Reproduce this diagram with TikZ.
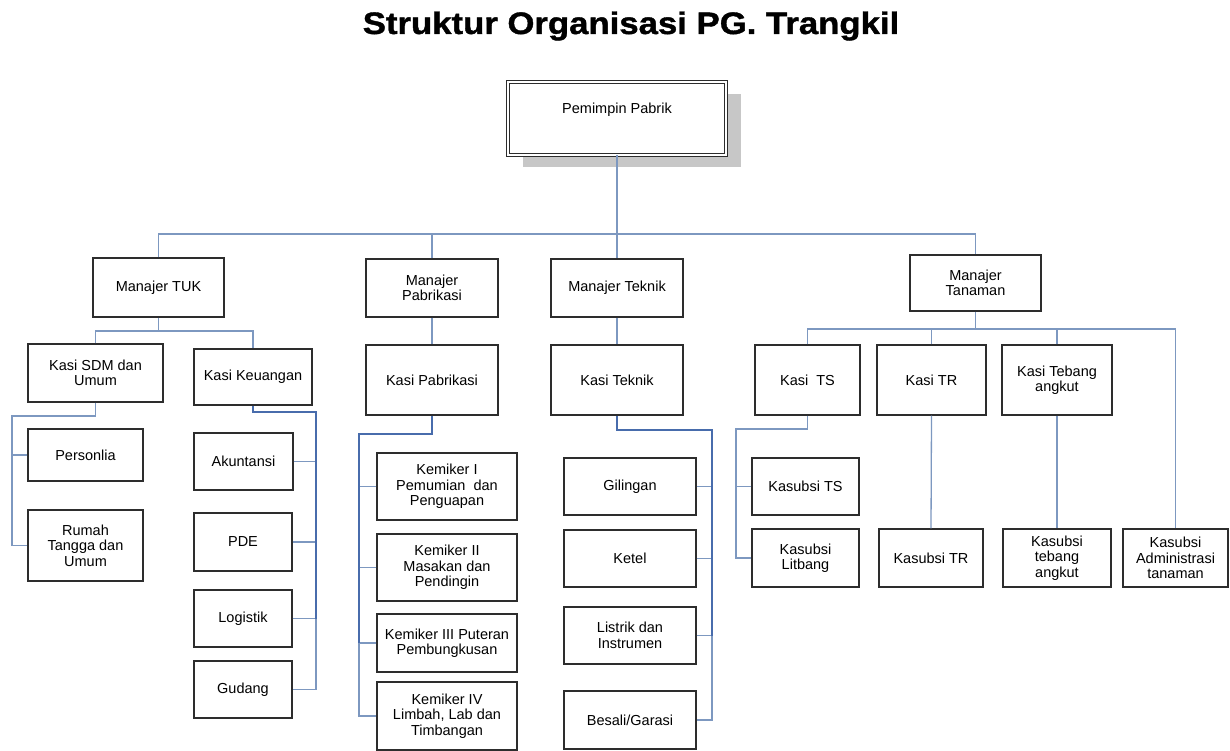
\documentclass[tikz,border=0pt]{standalone}
\usepackage{fontspec}
\setmainfont{Liberation Sans}
\newfontfamily\titlefont[FakeStretch=1.12, BoldFeatures={FakeBold=1.3}]{Liberation Sans}
\usetikzlibrary{shadows}
\definecolor{lnc}{RGB}{125,152,192}
\definecolor{spc}{RGB}{72,108,172}
\definecolor{bdc}{RGB}{45,45,45}
\tikzset{
  obox/.style={draw=bdc, line width=1.3pt, fill=white, inner sep=0pt, align=center,
    font=\fontsize{14.5}{15.5}\selectfont},
  pbox/.style={draw=bdc, double=white, double distance=2pt, line width=1pt, fill=white,
    inner sep=0pt, align=center, font=\fontsize{14.5}{15.5}\selectfont,
    text height=10pt, text depth=19pt,
    drop shadow={shadow xshift=15pt, shadow yshift=-12pt, fill=black!22, opacity=1}},
  ln/.style={draw=lnc, line width=1.3pt},
  spine/.style={draw=spc, line width=1.7pt},
}
\newcommand{\orgbox}[6]{\node[obox, minimum width={(#4)-(#2)}, minimum height={(#5)-(#3)}] (#1) at ({((#2)+(#4))/2},{((#3)+(#5))/2}) {#6};}
\begin{document}
\begin{tikzpicture}[x=1pt,y=-1pt]
\useasboundingbox[fill=white] (0,0) rectangle (1230,751);

\node[anchor=base, font=\titlefont\fontsize{31}{36}\bfseries\selectfont] (title) at (631,34) {Struktur Organisasi PG. Trangkil};

\node[pbox, minimum width=218, minimum height=73] (pp) at (617,118.5) {Pemimpin Pabrik};

% managers
\orgbox{mtuk}{93}{258}{224}{317}{Manajer TUK}
\orgbox{mpab}{366}{259}{498}{317}{Manajer\\Pabrikasi}
\orgbox{mtek}{551}{259}{683}{317}{Manajer Teknik}
\orgbox{mtan}{910}{255}{1041}{311}{Manajer\\Tanaman}

% TUK
\orgbox{ksdm}{28}{344}{163}{402}{Kasi SDM dan\\Umum}
\orgbox{kkeu}{194}{349}{312}{405}{Kasi Keuangan}
\orgbox{pers}{28}{429}{143}{481}{Personlia}
\orgbox{rumah}{28}{510}{143}{581}{Rumah\\Tangga dan\\Umum}
\orgbox{akun}{194}{433}{293}{490}{Akuntansi}
\orgbox{pde}{194}{513}{292}{571}{PDE}
\orgbox{logi}{194}{590}{292}{647}{Logistik}
\orgbox{guda}{194}{661}{292}{718}{Gudang}

% Pabrikasi
\orgbox{kpab}{366}{345}{498}{415}{Kasi Pabrikasi}
\orgbox{kem1}{377}{453}{517}{520}{Kemiker I\\Pemumian\ \ dan\\Penguapan}
\orgbox{kem2}{377}{534}{517}{601}{Kemiker II\\Masakan dan\\Pendingin}
\orgbox{kem3}{377}{614}{517}{672}{Kemiker III Puteran\\Pembungkusan}
\orgbox{kem4}{377}{682}{517}{750}{Kemiker IV\\Limbah, Lab dan\\Timbangan}

% Teknik
\orgbox{ktek}{551}{345}{683}{415}{Kasi Teknik}
\orgbox{gil}{564}{458}{696}{515}{Gilingan}
\orgbox{ketel}{564}{530}{696}{587}{Ketel}
\orgbox{lis}{564}{607}{696}{664}{Listrik dan\\Instrumen}
\orgbox{bes}{564}{691}{696}{749}{Besali/Garasi}

% Tanaman
\orgbox{kts}{755}{345}{860}{415}{Kasi\ \ TS}
\orgbox{ktr}{877}{345}{986}{415}{Kasi TR}
\orgbox{kteb}{1002}{345}{1112}{415}{Kasi Tebang\\angkut}
\orgbox{ksts}{752}{458}{859}{515}{Kasubsi TS}
\orgbox{kslit}{752}{529}{859}{587}{Kasubsi\\Litbang}
\orgbox{kstr}{879}{529}{983}{587}{Kasubsi TR}
\orgbox{kstb}{1003}{529}{1111}{587}{Kasubsi\\tebang\\angkut}
\orgbox{ksadm}{1123}{529}{1228}{587}{Kasubsi\\Administrasi\\tanaman}

% bus points
\coordinate (bus0) at (617,234);
\coordinate (bus1) at (159,331);
\coordinate (sdmb) at (12,416);
\coordinate (keub) at (316,412);
\coordinate (pabb) at (359,434);
\coordinate (tekb) at (712,430);
\coordinate (tanb) at (975,329);
\coordinate (tsb) at (736,429);

% top level
\draw[ln] (pp.south) -- (mtek.north);
\draw[ln] (mtuk.north) |- (bus0) -| (mtan.north);
\draw[ln] (mpab.north) -- (mpab.north |- bus0);

% TUK
\draw[ln] (mtuk.south) -- (mtuk.south |- bus1);
\draw[ln] (ksdm.north) |- (bus1) -| (kkeu.north);
\draw[ln] (ksdm.south) |- (sdmb) |- (rumah.west);
\draw[ln] (pers.west) -- (pers.west -| sdmb);
\draw[ln] (logi.east -| keub) |- (guda.east);
\draw[ln] (akun.east) -- (akun.east -| keub);
\draw[ln] (pde.east) -- (pde.east -| keub);
\draw[ln] (logi.east) -- (logi.east -| keub);
\draw[spine] (kkeu.south) |- (keub) -- (logi.east -| keub);

% Pabrikasi
\draw[ln] (mpab.south) -- (kpab.north);
\draw[ln] (kem3.west -| pabb) |- (kem4.west);
\draw[ln] (kem1.west) -- (kem1.west -| pabb);
\draw[ln] (kem2.west) -- (kem2.west -| pabb);
\draw[ln] (kem3.west) -- (kem3.west -| pabb);
\draw[spine] (kpab.south) |- (pabb) -- (kem3.west -| pabb);

% Teknik
\draw[ln] (mtek.south) -- (ktek.north);
\draw[ln] (lis.east -| tekb) |- (bes.east);
\draw[ln] (gil.east) -- (gil.east -| tekb);
\draw[ln] (ketel.east) -- (ketel.east -| tekb);
\draw[ln] (lis.east) -- (lis.east -| tekb);
\draw[spine] (ktek.south) |- (tekb) -- (lis.east -| tekb);

% Tanaman
\draw[ln] (mtan.south) -- (mtan.south |- tanb);
\draw[ln] (kts.north) |- (tanb) -| (ksadm.north);
\draw[ln] (ktr.north) -- (ktr.north |- tanb);
\draw[ln] (kteb.north) -- (kteb.north |- tanb);
\draw[ln] (kts.south) |- (tsb) |- (kslit.west);
\draw[ln] (ksts.west) -- (ksts.west -| tsb);
\draw[ln] (ktr.south) -- (kstr.north);
\draw[ln] (kteb.south) -- (kstb.north);
\end{tikzpicture}
\end{document}
